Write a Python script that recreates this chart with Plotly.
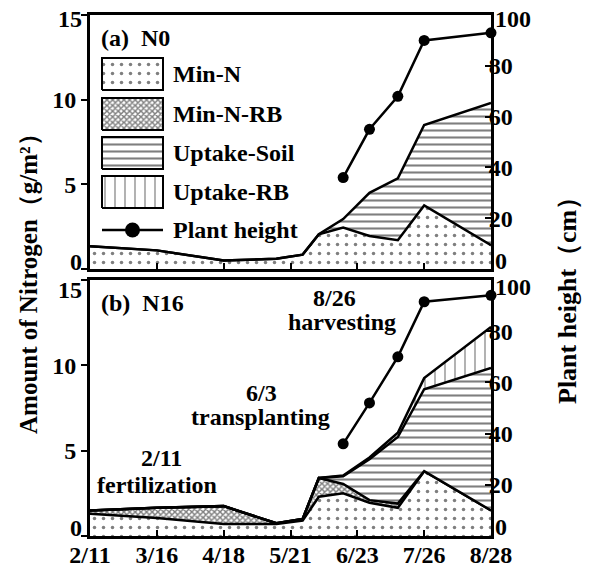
import numpy as np
import plotly.graph_objects as go

# ---------------- data ----------------
tick_days = [0, 33, 66, 99, 132, 165, 198]
tick_labels = ["2/11", "3/16", "4/18", "5/21", "6/23", "7/26", "8/28"]
n_ticks = [0, 5, 10, 15]
h_ticks = [0, 20, 40, 60, 80, 100]

sample_days = [0, 33, 66, 92, 105, 113, 125, 138, 152, 165, 198]
height_days = [125, 138, 152, 165, 198]

# (a) N0
n0_min_n = [1.35, 1.1, 0.5, 0.6, 0.85, 2.05, 2.45, 1.95, 1.7, 3.75, 1.4]
n0_uptake_soil = [0, 0, 0, 0, 0, 0, 0.5, 2.55, 3.65, 4.75, 8.4]
n0_height = [36, 55, 68, 90, 93]

# (b) N16
n16_min_n = [1.3, 1.05, 0.7, 0.7, 0.9, 2.3, 2.5, 1.95, 1.65, 3.8, 1.5]
n16_min_n_rb = [0.2, 0.6, 1.05, 0.05, 0.1, 1.1, 0.55, 0.15, 0.25, 0, 0]
n16_uptake_soil = [0, 0, 0, 0, 0, 0, 0.45, 2.4, 3.9, 4.8, 8.35]
n16_uptake_rb = [0, 0, 0, 0, 0, 0, 0.05, 0.1, 0.25, 0.65, 2.4]
n16_height = [36, 52, 70, 91.5, 94]

series_names = ["Min-N", "Min-N-RB", "Uptake-Soil", "Uptake-RB", "Plant height"]

# ---------------- styles ----------------
FONT = "Liberation Serif, Times New Roman, serif"
pat = {
    "Min-N": dict(shape=".", size=9, solidity=0.12, fgcolor="black", bgcolor="white"),
    "Min-N-RB": dict(shape="x", size=4, solidity=0.6, fgcolor="black", bgcolor="white"),
    "Uptake-Soil": dict(shape="-", size=7, solidity=0.3, fgcolor="black", bgcolor="white"),
    "Uptake-RB": dict(shape="|", size=10, solidity=0.12, fgcolor="black", bgcolor="white"),
}

# layout geometry (pixels)
W, H = 595, 574
L, R, T, B = 90, 104, 15, 38
PW, PH = W - L - R, H - T - B


def px2x(px):
    return (px - L) / PW


def px2y(py):
    return (H - B - py) / PH


top_dom = [px2y(269), 1.0]
bot_dom = [0.0, px2y(280)]

fig = go.Figure()


def add_stack(layers, xa, ya):
    cum = np.zeros(len(sample_days))
    for i, (name, vals) in enumerate(layers):
        cum = cum + np.array(vals, dtype=float)
        fig.add_trace(go.Scatter(
            x=sample_days, y=cum.tolist(), mode="lines", name=name,
            line=dict(color="black", width=2.5),
            fill="tozeroy" if i == 0 else "tonexty",
            fillcolor="white", fillpattern=pat[name],
            xaxis=xa, yaxis=ya, showlegend=False))


add_stack([("Min-N", n0_min_n), ("Uptake-Soil", n0_uptake_soil)], "x", "y")
add_stack([("Min-N", n16_min_n), ("Min-N-RB", n16_min_n_rb),
           ("Uptake-Soil", n16_uptake_soil), ("Uptake-RB", n16_uptake_rb)], "x2", "y3")

for hvals, xa, ya in [(n0_height, "x", "y2"), (n16_height, "x2", "y4")]:
    fig.add_trace(go.Scatter(
        x=height_days, y=hvals, mode="lines+markers", name="Plant height",
        line=dict(color="black", width=2.5),
        marker=dict(color="black", size=11),
        cliponaxis=False, xaxis=xa, yaxis=ya, showlegend=False))

# ---------------- custom legend (overlay axes in panel fractions) ----------------
def lx(px):
    return (px - 90) / 401


def ly(py):
    return (269 - py) / 254


box_x0, box_x1 = lx(102), lx(163)
box_tops = [58, 98, 137, 176]
for name, top in zip(series_names[:4], box_tops):
    y0, y1 = ly(top + 32), ly(top)
    fig.add_trace(go.Scatter(
        x=[box_x0, box_x1, box_x1, box_x0, box_x0], y=[y0, y0, y1, y1, y0],
        mode="lines", fill="toself", fillcolor="white", fillpattern=pat[name],
        line=dict(color="black", width=2), xaxis="x3", yaxis="y5",
        showlegend=False, hoverinfo="skip"))
fig.add_trace(go.Scatter(
    x=[box_x0, box_x1], y=[ly(230), ly(230)], mode="lines",
    line=dict(color="black", width=2.5), xaxis="x3", yaxis="y5",
    showlegend=False, hoverinfo="skip"))
fig.add_trace(go.Scatter(
    x=[(box_x0 + box_x1) / 2], y=[ly(230)], mode="markers",
    marker=dict(color="black", size=15), xaxis="x3", yaxis="y5",
    showlegend=False, hoverinfo="skip", cliponaxis=False))

annos = []
for name, yc in zip(series_names, [74, 114, 153, 192, 230]):
    annos.append(dict(text=name, x=px2x(171), y=px2y(yc), xanchor="left", yanchor="middle"))

annos += [
    dict(text="(a)  N0", x=px2x(99), y=px2y(38), xanchor="left", yanchor="middle"),
    dict(text="(b)  N16", x=px2x(99), y=px2y(303), xanchor="left", yanchor="middle"),
    dict(text="2/11", x=px2x(161), y=px2y(458), xanchor="center", yanchor="middle"),
    dict(text="fertilization", x=px2x(157), y=px2y(485), xanchor="center", yanchor="middle"),
    dict(text="6/3", x=px2x(261), y=px2y(393), xanchor="center", yanchor="middle"),
    dict(text="transplanting", x=px2x(260), y=px2y(417), xanchor="center", yanchor="middle"),
    dict(text="8/26", x=px2x(334), y=px2y(298), xanchor="center", yanchor="middle"),
    dict(text="harvesting", x=px2x(342), y=px2y(322), xanchor="center", yanchor="middle"),
    dict(text="Amount of Nitrogen（g/m²）", x=px2x(28), y=px2y(278), textangle=-90,
         xanchor="center", yanchor="middle", font=dict(size=25)),
    dict(text="Plant height（cm）", x=px2x(567), y=px2y(294), textangle=-90,
         xanchor="center", yanchor="middle", font=dict(size=26)),
]

# end-of-axis tick labels, nudged inside the panel as in the original
for txt, py in [(str(n_ticks[-1]), 19), (str(n_ticks[0]), 262),
                (str(n_ticks[-1]), 290), (str(n_ticks[0]), 528)]:
    annos.append(dict(text=txt, x=px2x(84), y=px2y(py), xanchor="right", yanchor="middle"))
for txt, py in [(str(h_ticks[-1]), 19), (str(h_ticks[0]), 261),
                (str(h_ticks[-1]), 287), (str(h_ticks[0]), 527)]:
    annos.append(dict(text=txt, x=px2x(493), y=px2y(py), xanchor="left", yanchor="middle"))

for a in annos:
    a.setdefault("font", dict(size=24))
    a["font"].update(family=FONT, color="black", weight="bold")
    a.update(xref="paper", yref="paper", showarrow=False)

tickfont = dict(family=FONT, size=24, color="black", weight="bold")


def bold(labels):
    return ["<b>%s</b>" % s for s in labels]


def inner_labels(vals):
    return ["" if i in (0, len(vals) - 1) else "<b>%s</b>" % v for i, v in enumerate(vals)]


xcommon = dict(range=[0, 198], tickvals=tick_days, ticktext=bold(tick_labels),
               ticks="inside", ticklen=6, tickwidth=2, tickcolor="black",
               showline=True, linewidth=3, linecolor="black", mirror=True,
               showgrid=False, zeroline=False, tickfont=tickfont, automargin=False,
               ticklabelstandoff=-5)
yleft = dict(range=[0, 15], tickvals=n_ticks, ticktext=inner_labels(n_ticks),
             ticks="outside", ticklen=6,
             tickwidth=2, tickcolor="black", showline=True, linewidth=3,
             linecolor="black", showgrid=False, zeroline=False, tickfont=tickfont,
             automargin=False)
yright = dict(range=[0, 100], tickvals=h_ticks, ticktext=inner_labels(h_ticks),
              ticks="inside",
              ticklen=6, tickwidth=2, tickcolor="black", showline=True, linewidth=3,
              linecolor="black", showgrid=False, zeroline=False, tickfont=tickfont,
              side="right", automargin=False, ticklabelstandoff=-10)

fig.update_layout(
    width=W, height=H,
    margin=dict(l=L, r=R, t=T, b=B),
    paper_bgcolor="white", plot_bgcolor="white",
    font=dict(family=FONT, color="black", weight="bold"),
    showlegend=False,
    hovermode=False,
    xaxis=dict(xcommon, anchor="y", domain=[0, 1], showticklabels=False),
    xaxis2=dict(xcommon, anchor="y3", domain=[0, 1], showticklabels=True),
    yaxis=dict(yleft, domain=top_dom, anchor="x"),
    yaxis2=dict(yright, overlaying="y", anchor="x"),
    yaxis3=dict(yleft, domain=bot_dom, anchor="x2"),
    yaxis4=dict(yright, overlaying="y3", anchor="x2"),
    xaxis3=dict(overlaying="x", range=[0, 1], anchor="y5", visible=False),
    yaxis5=dict(overlaying="y", range=[0, 1], anchor="x3", visible=False),
    annotations=annos,
)

fig.write_html(
    "out.html",
    config={"displayModeBar": False, "staticPlot": True},
    post_script="document.body.style.margin='0';document.body.style.overflow='hidden';",
)
